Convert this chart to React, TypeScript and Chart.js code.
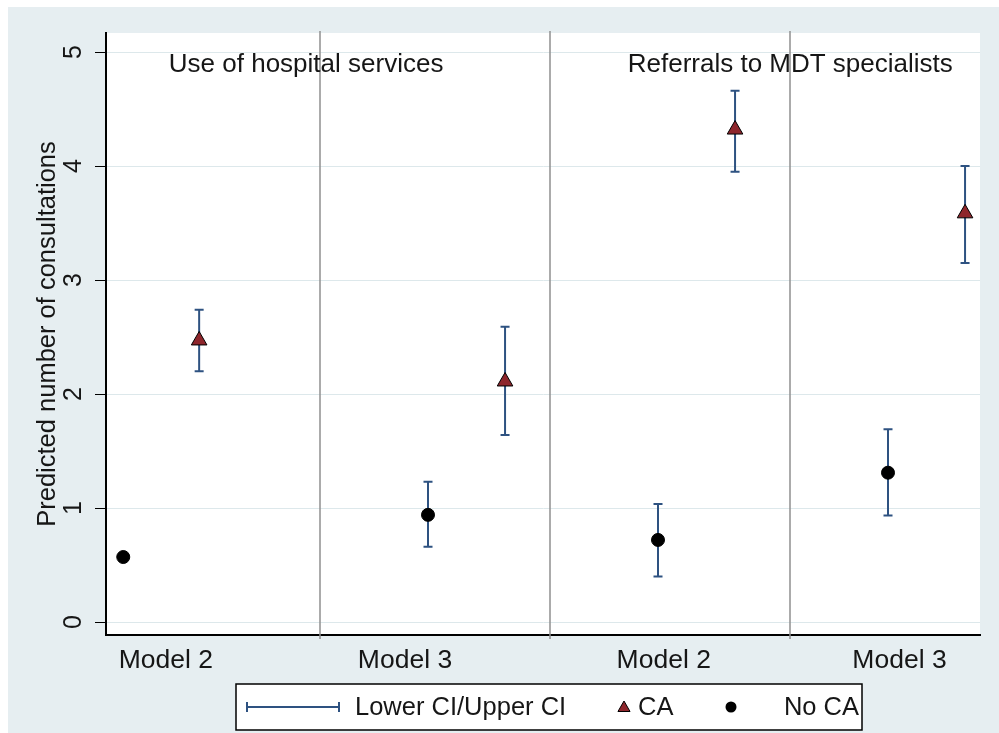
import React, { useEffect, useRef } from "react";
import { Chart, registerables } from "chart.js";

Chart.register(...registerables);

// ---- data ----
const xLabels = ["Model 2", "Model 3", "Model 2", "Model 3"];
const xLabelPos = [0.52, 2.6, 4.85, 6.9];
const panelTitles = ["Use of hospital services", "Referrals to MDT specialists"];
const panelTitlePos = [1.74, 5.95];
const panelTitleY = 4.9;
const separatorPos = [1.86, 3.86, 5.95];

const noCaX = [0.15, 2.8, 4.8, 6.8];
const noCaEst = [0.57, 0.94, 0.72, 1.31];
const noCaLo = [0.55, 0.66, 0.4, 0.935];
const noCaHi = [0.59, 1.23, 1.035, 1.69];

const caX = [0.81, 3.47, 5.47, 7.47];
const caEst = [2.47, 2.11, 4.32, 3.585];
const caLo = [2.2, 1.64, 3.95, 3.15];
const caHi = [2.74, 2.59, 4.66, 4.0];

const yTicks = [0, 1, 2, 3, 4, 5];
const yTitle = "Predicted number of consultations";
const legendLabels = ["Lower CI/Upper CI", "CA", "No CA"];

// ---- style ----
const FONT = '"Liberation Sans", Arial, Helvetica, sans-serif';
const TEXT = "#161616";
const BG = "#e6eef1";
const GRID = "#dde8eb";
const CI_COLOR = "#2e5281";
const CA_COLOR = "#8e262c";

function drawTri(ctx: CanvasRenderingContext2D, cx: number, cy: number, r: number) {
  ctx.beginPath();
  ctx.moveTo(cx, cy - r);
  ctx.lineTo(cx + r * Math.sin(Math.PI / 3), cy + r / 2);
  ctx.lineTo(cx - r * Math.sin(Math.PI / 3), cy + r / 2);
  ctx.closePath();
  ctx.fillStyle = CA_COLOR;
  ctx.fill();
  ctx.strokeStyle = "#000";
  ctx.lineWidth = 1;
  ctx.stroke();
}

const decor = {
  id: "decor",
  beforeDraw(chart: any) {
    const { ctx, chartArea } = chart;
    ctx.save();
    ctx.fillStyle = "#ffffff";
    ctx.fillRect(chartArea.left, chartArea.top, chartArea.right - chartArea.left, chartArea.bottom - chartArea.top);
    ctx.restore();
  },
  beforeDatasetsDraw(chart: any) {
    const { ctx, chartArea } = chart;
    const x = chart.scales.x;
    const y = chart.scales.y;
    ctx.save();
    ctx.strokeStyle = "#8f8f8f";
    ctx.lineWidth = 1.5;
    separatorPos.forEach((v) => {
      const px = Math.round(x.getPixelForValue(v));
      ctx.beginPath();
      ctx.moveTo(px, chartArea.top - 2);
      ctx.lineTo(px, chartArea.bottom + 4);
      ctx.stroke();
    });
    ctx.strokeStyle = CI_COLOR;
    ctx.lineWidth = 2;
    const bars = (xs: number[], lo: number[], hi: number[]) => {
      xs.forEach((v, i) => {
        const px = x.getPixelForValue(v);
        const a = y.getPixelForValue(lo[i]);
        const b = y.getPixelForValue(hi[i]);
        ctx.beginPath();
        ctx.moveTo(px, a);
        ctx.lineTo(px, b);
        ctx.moveTo(px - 4.5, a);
        ctx.lineTo(px + 4.5, a);
        ctx.moveTo(px - 4.5, b);
        ctx.lineTo(px + 4.5, b);
        ctx.stroke();
      });
    };
    bars(noCaX, noCaLo, noCaHi);
    bars(caX, caLo, caHi);
    ctx.restore();
  },
  afterDraw(chart: any) {
    const { ctx, chartArea } = chart;
    const x = chart.scales.x;
    const y = chart.scales.y;
    ctx.save();
    ctx.fillStyle = TEXT;
    ctx.font = `25px ${FONT}`;
    // y tick labels (rotated)
    yTicks.forEach((v) => {
      ctx.save();
      ctx.translate(chartArea.left - 32, y.getPixelForValue(v));
      ctx.rotate(-Math.PI / 2);
      ctx.textAlign = "center";
      ctx.textBaseline = "middle";
      ctx.fillText(String(v), 0, 0);
      ctx.restore();
    });
    // y title
    ctx.save();
    ctx.font = `25.5px ${FONT}`;
    ctx.translate(chartArea.left - 58, (chartArea.top + chartArea.bottom) / 2);
    ctx.rotate(-Math.PI / 2);
    ctx.textAlign = "center";
    ctx.textBaseline = "middle";
    ctx.fillText(yTitle, 0, 0);
    ctx.restore();
    // x labels
    ctx.font = `26.5px ${FONT}`;
    ctx.textAlign = "center";
    ctx.textBaseline = "middle";
    xLabels.forEach((t, i) => {
      ctx.fillText(t, x.getPixelForValue(xLabelPos[i]), chartArea.bottom + 26);
    });
    // panel titles
    ctx.font = `26px ${FONT}`;
    panelTitles.forEach((t, i) => {
      ctx.fillText(t, x.getPixelForValue(panelTitlePos[i]), y.getPixelForValue(panelTitleY) + 1);
    });
    // legend
    const bx = 228, by = 677, bw = 626, bh = 46;
    ctx.fillStyle = "#ffffff";
    ctx.fillRect(bx, by, bw, bh);
    ctx.strokeStyle = "#000";
    ctx.lineWidth = 1.5;
    ctx.strokeRect(bx, by, bw, bh);
    const cy = by + bh / 2;
    ctx.strokeStyle = CI_COLOR;
    ctx.lineWidth = 2;
    ctx.beginPath();
    ctx.moveTo(239, cy);
    ctx.lineTo(331, cy);
    ctx.moveTo(239, cy - 5);
    ctx.lineTo(239, cy + 5);
    ctx.moveTo(331, cy - 5);
    ctx.lineTo(331, cy + 5);
    ctx.stroke();
    ctx.font = `25.5px ${FONT}`;
    ctx.fillStyle = TEXT;
    ctx.textAlign = "left";
    ctx.fillText(legendLabels[0], 347, cy + 1);
    drawTri(ctx, 616, cy + 1, 7);
    ctx.fillStyle = TEXT;
    ctx.fillText(legendLabels[1], 630, cy + 1);
    ctx.beginPath();
    ctx.arc(723, cy, 5.5, 0, Math.PI * 2);
    ctx.fillStyle = "#000";
    ctx.fill();
    ctx.fillStyle = TEXT;
    ctx.textAlign = "right";
    ctx.fillText(legendLabels[2], bx + bw - 3, cy + 1);
    ctx.restore();
  },
};

export default function App() {
  const ref = useRef<HTMLCanvasElement | null>(null);
  useEffect(() => {
    if (!ref.current) return;
    const chart = new Chart(ref.current, {
      type: "scatter",
      data: {
        datasets: [
          {
            label: "CA",
            data: caX.map((v, i) => ({ x: v, y: caEst[i] })),
            pointStyle: "triangle",
            pointRadius: 9,
            backgroundColor: CA_COLOR,
            borderColor: "#000",
            borderWidth: 1,
          },
          {
            label: "No CA",
            data: noCaX.map((v, i) => ({ x: v, y: noCaEst[i] })),
            pointStyle: "circle",
            pointRadius: 6.5,
            backgroundColor: "#000",
            borderColor: "#000",
            borderWidth: 1,
          },
        ],
      },
      options: {
        animation: false,
        responsive: false,
        events: [],
        layout: { padding: { left: 0, top: 26, right: 19, bottom: 0 } },
        plugins: { legend: { display: false }, tooltip: { enabled: false } },
        scales: {
          x: {
            type: "linear",
            min: 0,
            max: 7.6,
            grid: { display: false },
            ticks: { display: false },
            border: { display: true, color: "#000", width: 2 },
            afterFit: (s: any) => {
              s.height = 98;
            },
          },
          y: {
            type: "linear",
            min: -0.114,
            max: 5.167,
            afterBuildTicks: (s: any) => {
              s.ticks = yTicks.map((v) => ({ value: v }));
            },
            grid: { color: GRID, lineWidth: 1, tickColor: "#000", tickLength: 11, drawTicks: true },
            ticks: { display: false },
            border: { display: true, color: "#000", width: 2 },
            afterFit: (s: any) => {
              s.width = 98;
            },
          },
        },
      },
      plugins: [decor],
    } as any);
    return () => chart.destroy();
  }, []);
  return (
    <div
      style={{
        position: "fixed",
        left: 8,
        top: 7,
        width: 991,
        height: 726,
        background: BG,
      }}
    >
      <canvas ref={ref} width={991} height={726} style={{ display: "block" }} />
    </div>
  );
}
